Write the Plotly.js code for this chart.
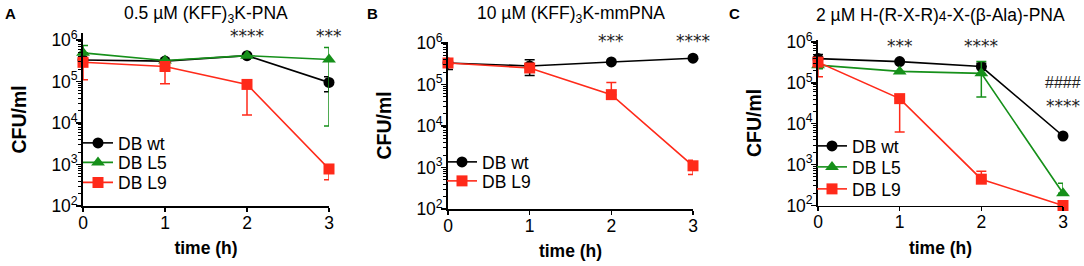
<!DOCTYPE html>
<html>
<head>
<meta charset="utf-8">
<script src="https://cdn.plot.ly/plotly-3.0.1.min.js"></script>
<style>html,body{margin:0;padding:0;background:#fff;}#chart{width:1084px;height:266px;}</style>
</head>
<body>
<div id="chart"></div>
<script>
// ---- data ----
const timeH = [0, 1, 2, 3];
const seriesNames = ['DB wt', 'DB L5', 'DB L9'];
const panelTitles = [
  '0.5 \u00b5M (KFF)<sub>3</sub>K-PNA',
  '10 \u00b5M (KFF)<sub>3</sub>K-mmPNA',
  '2 \u00b5M H-(R-X-R)<span style="font-size:14px">4</span>-X-(\u03b2-Ala)-PNA'
];
const panelLetters = ['A', 'B', 'C'];
const yTickVals = [1e2, 1e3, 1e4, 1e5, 1e6];
const yTickText = ['10<sup>2</sup>', '10<sup>3</sup>', '10<sup>4</sup>', '10<sup>5</sup>', '10<sup>6</sup>'];

// Panel A
const wtA = [3.3e5, 3.1e5, 4.2e5, 9.5e4];
const wtA_plus = [0, 0, 0, 3.5e4];
const wtA_minus = [0, 0, 0, 3.8e4];
const l5A = [4.9e5, 3.2e5, 4.2e5, 3.4e5];
const l5A_plus = [2.5e5, 0, 0, 3.2e5];
const l5A_minus = [0, 0, 0, 3.315e5];
const l9A = [2.9e5, 2.3e5, 8.5e4, 7.8e2];
const l9A_plus = [0, 0, 0, 0];
const l9A_minus = [1.8e5, 1.42e5, 6.95e4, 3.5e2];

// Panel B
const wtB = [3.3e5, 2.8e5, 3.5e5, 4.3e5];
const wtB_plus = [0, 1.15e5, 0, 0];
const wtB_minus = [1.0e5, 1.15e5, 0, 0];
const l9B = [3.3e5, 2.5e5, 5.7e4, 1.1e3];
const l9B_plus = [0, 0, 5.5e4, 4.0e2];
const l9B_minus = [0, 0, 0, 4.2e2];

// Panel C
const wtC = [3.9e5, 3.3e5, 2.5e5, 5.0e3];
const wtC_plus = [1.0e5, 0, 5.0e4, 0];
const wtC_minus = [0, 0, 0, 0];
const l5C = [2.7e5, 1.9e5, 1.7e5, 2.0e2];
const l5C_plus = [0, 0, 1.6e5, 1.5e2];
const l5C_minus = [5.0e4, 0, 1.25e5, 0];
const l9C = [3.2e5, 4.1e4, 4.4e2, 1.0e2];
const l9C_plus = [0, 0, 2.5e2, 0];
const l9C_minus = [1.8e5, 3.47e4, 0, 0];

// significance marks: [panel, x, text]
const sigMarks = [
  [0, 2, '****'], [0, 3, '***'],
  [1, 2, '***'], [1, 3, '****'],
  [2, 1, '***'], [2, 2, '****'],
  [2, 3, '####'], [2, 3, '****']
];
const sigY = [36, 36, 41, 41, 46, 46, 83, 106];

// ---- styles ----
const W = 1084, H = 266;
const colors = {wt: '#000000', l5: '#16901a', l9: '#ff2a1a'};
const symbols = {wt: 'circle', l5: 'triangle-up', l9: 'square'};
const sizes = {wt: 11, l5: 12, l9: 11};
const FONT = 'Arial, "Liberation Sans", sans-serif';
function px2fx(p) { return p / W; }
function px2fy(p) { return (H - p) / H; }

function mk(name, key, y, plus, minus, xa, ya, leg) {
  return {
    type: 'scatter', mode: 'lines+markers', name: name,
    x: timeH, y: y, xaxis: xa, yaxis: ya, legend: leg, showlegend: true,
    cliponaxis: false,
    line: {color: colors[key], width: 1.6},
    marker: {color: colors[key], symbol: symbols[key], size: sizes[key]},
    error_y: {type: 'data', symmetric: false, array: plus, arrayminus: minus,
              color: colors[key], thickness: 1.5, width: 5}
  };
}

const traces = [
  mk(seriesNames[0], 'wt', wtA, wtA_plus, wtA_minus, 'x', 'y', 'legend'),
  mk(seriesNames[1], 'l5', l5A, l5A_plus, l5A_minus, 'x', 'y', 'legend2'),
  mk(seriesNames[2], 'l9', l9A, l9A_plus, l9A_minus, 'x', 'y', 'legend3'),
  mk(seriesNames[0], 'wt', wtB, wtB_plus, wtB_minus, 'x2', 'y2', 'legend4'),
  mk(seriesNames[2], 'l9', l9B, l9B_plus, l9B_minus, 'x2', 'y2', 'legend5'),
  mk(seriesNames[0], 'wt', wtC, wtC_plus, wtC_minus, 'x3', 'y3', 'legend6'),
  mk(seriesNames[1], 'l5', l5C, l5C_plus, l5C_minus, 'x3', 'y3', 'legend7'),
  mk(seriesNames[2], 'l9', l9C, l9C_plus, l9C_minus, 'x3', 'y3', 'legend8')
];
// legend item positions in px: text start x, text center y
const legendPx = [[78, 143], [78, 162.5], [78, 182.5], [442, 162], [442, 181], [812, 146], [812, 167], [812, 189]];

const panels = [
  {x0: 83, x1: 329, yBot: 206, perDec: 41.5, top: 6.17},
  {x0: 448, x1: 693, yBot: 209, perDec: 41.5, top: 6.03},
  {x0: 818, x1: 1063, yBot: 205.5, perDec: 40.9, top: 6.04}
];

const layout = {
  width: W, height: H,
  margin: {l: 0, r: 0, t: 0, b: 0},
  paper_bgcolor: '#fff', plot_bgcolor: 'rgba(0,0,0,0)',
  font: {family: FONT, size: 17.5, color: '#000'},
  showlegend: true,
  annotations: []
};

legendPx.forEach((lp, i) => {
  layout[i === 0 ? 'legend' : 'legend' + (i + 1)] = {
    x: px2fx(lp[0]), y: px2fy(lp[1]), xanchor: 'left', yanchor: 'middle',
    bgcolor: 'rgba(0,0,0,0)', borderwidth: 0, font: {size: 17.5}
  };
});

panels.forEach((p, i) => {
  const sfx = i === 0 ? '' : String(i + 1);
  const yTopPx = p.yBot - (p.top - 2) * p.perDec;
  layout['xaxis' + sfx] = {
    domain: [px2fx(p.x0), px2fx(p.x1)],
    anchor: 'y' + sfx,
    range: [0, 3], tickvals: timeH, ticktext: timeH.map(String),
    ticks: 'outside', ticklen: 4, tickwidth: 1.5, tickcolor: '#000',
    ticklabelstandoff: -4,
    showline: true, linecolor: '#000', linewidth: 1.8,
    showgrid: false, zeroline: false,
    tickfont: {size: 17.5},
    title: {text: '<b>time (h)</b>', font: {size: 17.5}, standoff: 10},
    automargin: false, fixedrange: true
  };
  layout['yaxis' + sfx] = {
    domain: [px2fy(p.yBot), px2fy(yTopPx)],
    anchor: 'x' + sfx,
    type: 'log', range: [2, p.top],
    tickvals: yTickVals, ticktext: yTickText,
    ticks: 'outside', ticklen: 5, tickwidth: 1.5, tickcolor: '#000',
    ticklabelstandoff: -5,
    minor: {ticks: 'outside', ticklen: 3, tickwidth: 1, tickcolor: '#000', dtick: 'D1', showgrid: false},
    showline: true, linecolor: '#000', linewidth: 1.8,
    showgrid: false, zeroline: false,
    tickfont: {size: 17.5},
    title: {text: '<b>CFU/ml</b>', font: {size: 19.5}, standoff: 19},
    automargin: false, fixedrange: true
  };
  layout.annotations.push({
    text: panelTitles[i], xref: 'paper', yref: 'paper',
    x: px2fx((p.x0 + p.x1) / 2), y: px2fy(15), xanchor: 'center', yanchor: 'middle',
    showarrow: false, font: {size: 17.5}
  });
  layout.annotations.push({
    text: '<b>' + panelLetters[i] + '</b>', xref: 'paper', yref: 'paper',
    x: px2fx(i * 362 + 3), y: px2fy(13), xanchor: 'left', yanchor: 'middle',
    showarrow: false, font: {size: 15}
  });
});

sigMarks.forEach((s, k) => {
  const sfx = s[0] === 0 ? '' : String(s[0] + 1);
  const isHash = s[2].indexOf('#') >= 0;
  layout.annotations.push({
    text: s[2], xref: 'x' + sfx, yref: 'paper',
    x: s[1], y: px2fy(sigY[k]), xanchor: 'center', yanchor: 'middle',
    showarrow: false,
    font: isHash ? {family: FONT, size: 16, color: '#222'} : {family: '"DejaVu Sans", sans-serif', size: 17, color: '#222'}
  });
});

Plotly.newPlot('chart', traces, layout, {staticPlot: true, displayModeBar: false});
</script>
</body>
</html>
